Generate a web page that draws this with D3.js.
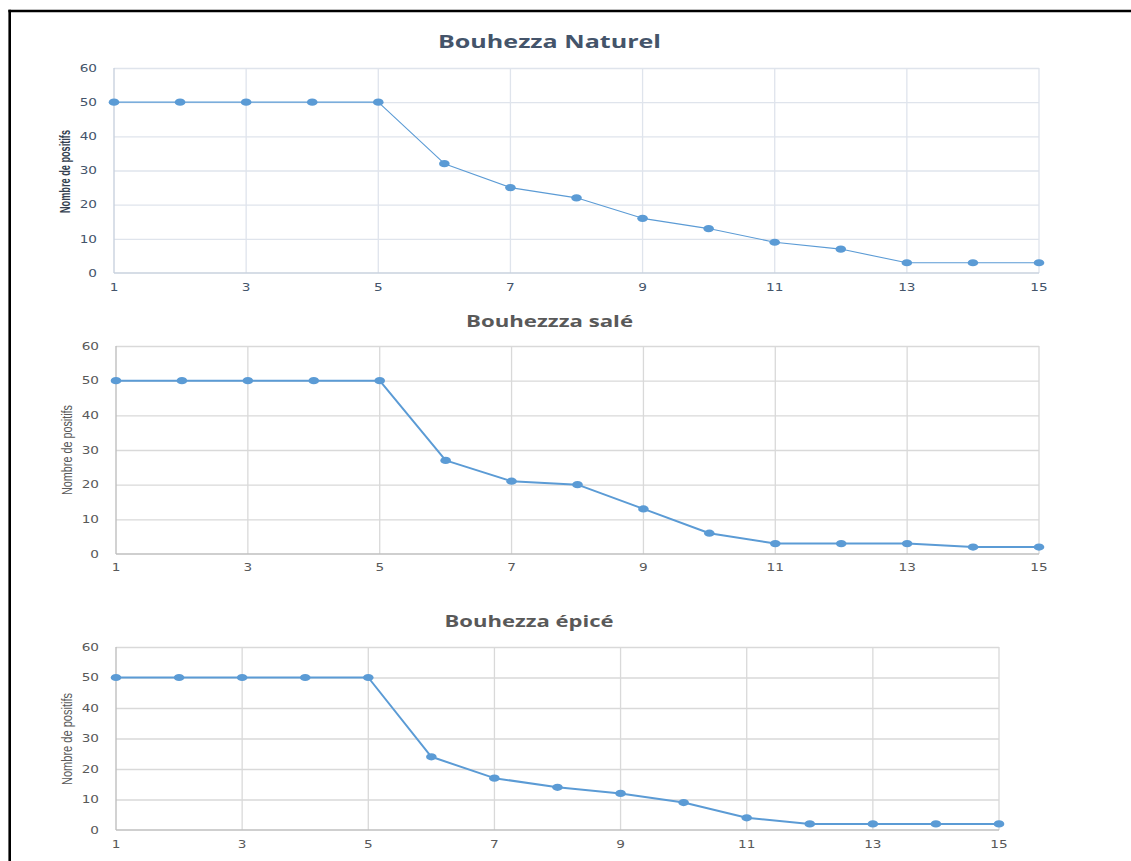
<!DOCTYPE html>
<html>
<head>
<meta charset="utf-8">
<script src="https://cdn.jsdelivr.net/npm/d3@7/dist/d3.min.js"></script>
<style>
  html, body { margin: 0; padding: 0; background: #ffffff; }
  svg { display: block; }
</style>
</head>
<body>
<svg id="fig" width="1131" height="861"></svg>
<script>
// Days of storage (1..15) and number of positive samples per preparation
const days = [1, 2, 3, 4, 5, 6, 7, 8, 9, 10, 11, 12, 13, 14, 15];
const naturel = [50, 50, 50, 50, 50, 32, 25, 22, 16, 13, 9, 7, 3, 3, 3];
const sale    = [50, 50, 50, 50, 50, 27, 21, 20, 13, 6, 3, 3, 3, 2, 2];
const epice   = [50, 50, 50, 50, 50, 24, 17, 14, 12, 9, 4, 2, 2, 2, 2];

const titles = ["Bouhezza Naturel", "Bouhezzza salé", "Bouhezza épicé"];
const xTicks = [1, 3, 5, 7, 9, 11, 13, 15];
const yTicks = [0, 10, 20, 30, 40, 50, 60];
const yLabel = "Nombre de positifs";

const svg = d3.select("#fig");
const TICK_FONT = "DejaVu Sans, Verdana, sans-serif";
const TICK_STRETCH = 1.3;

// page frame
svg.append("line").attr("x1", 9.7).attr("x2", 9.7).attr("y1", 9.8).attr("y2", 861)
  .attr("stroke", "#000").attr("stroke-width", 2.6);
svg.append("line").attr("x1", 8.4).attr("x2", 1131).attr("y1", 11).attr("y2", 11)
  .attr("stroke", "#000").attr("stroke-width", 2.6);

const panels = [
  { values: naturel, title: titles[0], left: 114, right: 1039, top: 68, bottom: 273,
    titleY: 48, titleX: 549.5, titleW: 223, titleSize: 18, titleColor: "#44546a",
    tickColor: "#44546a", grid: "#dfe4ec", axis: "#c9d2de", lineW: 1.1,
    labelX: 70, labelY: 171.5, labelW: 83, labelBold: true, labelColor: "#333f50",
    xLabY: 291, yLabX: 97 },
  { values: sale, title: titles[1], left: 116, right: 1039, top: 346, bottom: 554,
    titleY: 327, titleX: 549.5, titleW: 167, titleSize: 16, titleColor: "#595959",
    tickColor: "#595959", grid: "#d9d9d9", axis: "#bfbfbf", lineW: 2,
    labelX: 72, labelY: 450, labelW: 90, labelBold: false, labelColor: "#595959",
    xLabY: 571, yLabX: 99 },
  { values: epice, title: titles[2], left: 116, right: 999, top: 647, bottom: 830,
    titleY: 627, titleX: 529, titleW: 169, titleSize: 16, titleColor: "#595959",
    tickColor: "#595959", grid: "#d9d9d9", axis: "#bfbfbf", lineW: 2,
    labelX: 72, labelY: 739, labelW: 92, labelBold: false, labelColor: "#595959",
    xLabY: 848, yLabX: 99 }
];

panels.forEach(p => {
  const g = svg.append("g");
  const x = d3.scaleLinear().domain([1, 15]).range([p.left, p.right]);
  const y = d3.scaleLinear().domain([0, 60]).range([p.bottom, p.top]);

  // horizontal gridlines
  g.append("g").selectAll("line").data(yTicks.filter(d => d > 0)).join("line")
    .attr("x1", p.left).attr("x2", p.right)
    .attr("y1", d => y(d) + 0.5).attr("y2", d => y(d) + 0.5)
    .attr("stroke", p.grid).attr("stroke-width", 1.3);

  // vertical gridlines at odd days
  g.append("g").selectAll("line").data(xTicks.filter(d => d > 1)).join("line")
    .attr("x1", d => x(d)).attr("x2", d => x(d))
    .attr("y1", p.top).attr("y2", p.bottom)
    .attr("stroke", p.grid).attr("stroke-width", 1.3);

  // axes lines
  g.append("line").attr("x1", x(1)).attr("x2", x(1)).attr("y1", p.top).attr("y2", p.bottom)
    .attr("stroke", p.axis).attr("stroke-width", 1.4);
  g.append("line").attr("x1", p.left).attr("x2", p.right).attr("y1", y(0)).attr("y2", y(0))
    .attr("stroke", p.axis).attr("stroke-width", 1.4);

  // tick labels (slightly widened glyphs)
  g.append("g").selectAll("text").data(yTicks).join("text")
    .attr("transform", d => `translate(${p.yLabX},${y(d)}) scale(${TICK_STRETCH},1)`)
    .attr("dy", "0.35em")
    .attr("text-anchor", "end")
    .attr("font-family", TICK_FONT).attr("font-size", 10.5)
    .attr("fill", p.tickColor).text(d => d);
  g.append("g").selectAll("text").data(xTicks).join("text")
    .attr("transform", d => `translate(${x(d)},${p.xLabY}) scale(${TICK_STRETCH},1)`)
    .attr("text-anchor", "middle")
    .attr("font-family", TICK_FONT).attr("font-size", 10.5)
    .attr("fill", p.tickColor).text(d => d);

  // title
  g.append("text").attr("x", p.titleX).attr("y", p.titleY)
    .attr("text-anchor", "middle")
    .attr("font-family", "Open Sans, sans-serif").attr("font-weight", "bold")
    .attr("font-size", p.titleSize).attr("fill", p.titleColor)
    .attr("textLength", p.titleW).attr("lengthAdjust", "spacingAndGlyphs")
    .text(p.title);

  // y axis title (condensed)
  g.append("text")
    .attr("transform", `translate(${p.labelX},${p.labelY}) rotate(-90)`)
    .attr("text-anchor", "middle")
    .attr("font-family", "Liberation Sans Narrow, Liberation Sans, Arial, sans-serif")
    .attr("font-weight", p.labelBold ? "bold" : "normal")
    .attr("font-size", 15).attr("fill", p.labelColor)
    .attr("textLength", p.labelW).attr("lengthAdjust", "spacingAndGlyphs")
    .text(yLabel);

  // series line
  const line = d3.line().x((d, i) => x(days[i])).y(d => y(d));
  g.append("path").datum(p.values)
    .attr("d", line).attr("fill", "none")
    .attr("stroke", "#5b9bd5").attr("stroke-width", p.lineW)
    .attr("stroke-linejoin", "round");

  // markers
  g.append("g").selectAll("ellipse").data(p.values).join("ellipse")
    .attr("cx", (d, i) => x(days[i])).attr("cy", d => y(d))
    .attr("rx", 5.3).attr("ry", 3.6)
    .attr("fill", "#5b9bd5");
});
</script>
</body>
</html>
